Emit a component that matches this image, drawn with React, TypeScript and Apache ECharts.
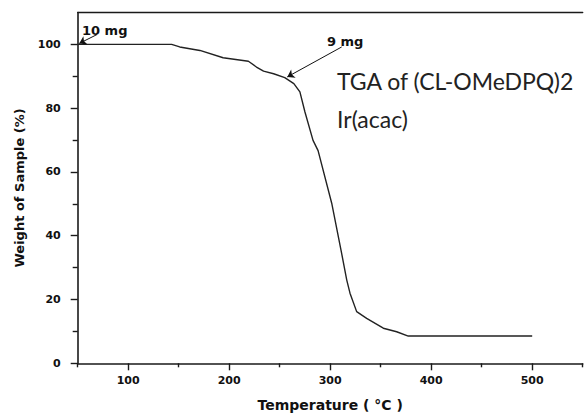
import React, { useEffect, useRef } from "react";
import * as echarts from "echarts";

const temperature = [50, 143, 151, 171, 194, 219, 227, 234, 244, 255, 264, 270, 275, 283, 288, 301.5, 310.7, 316.4, 319.6, 326.2, 336.1, 352.6, 365.8, 377.3, 500];
const weight = [100, 100, 99.2, 98.1, 95.8, 94.7, 92.9, 91.6, 90.8, 89.6, 87.7, 85.1, 78.8, 69.9, 66.7, 50.2, 35.5, 26.1, 22.0, 16.2, 14.1, 11.0, 9.9, 8.55, 8.55];

const xMajorTicks = [100, 200, 300, 400, 500];
const xMinorTicks = [50, 150, 250, 350, 450, 550];
const yMajorTicks = [0, 20, 40, 60, 80, 100];
const yMinorTicks = [10, 30, 50, 70, 90];

const annotationLabels = ["10 mg", "9 mg"];
const annotationFrom = [[69.2, 103.1], [311.4, 99.2]];
const annotationTo = [[51.5, 100.3], [257.5, 89.8]];

const titleLines = ["TGA of (CL-OMeDPQ)2", "Ir(acac)"];

const TICK_FONT = "DejaVu Sans";

export default function App() {
  const ref = useRef<HTMLDivElement>(null);
  useEffect(() => {
    if (!ref.current) return;
    const chart = echarts.init(ref.current, null, { renderer: "svg" });
    const lineColor = "#1a1a1a";
    const baseX = {
      type: "value",
      min: 50,
      max: 550,
      interval: 50,
      splitLine: { show: false },
    };
    const baseY = {
      type: "value",
      min: 0,
      max: 110,
      interval: 10,
      splitLine: { show: false },
    };
    chart.setOption({
      animation: false,
      backgroundColor: "#ffffff",
      grid: { left: 77.7, right: 2.3, top: 12.5, bottom: 54.7, containLabel: false },
      xAxis: [
        {
          ...baseX,
          position: "bottom",
          name: "Temperature ( °C )",
          nameLocation: "middle",
          nameGap: 35,
          nameTextStyle: { fontFamily: TICK_FONT, fontWeight: "bold", fontSize: 14, color: "#111" },
          axisLine: { show: true, onZero: false, lineStyle: { color: lineColor, width: 1.6 } },
          axisTick: { show: true, customValues: xMajorTicks, length: 7, lineStyle: { color: lineColor, width: 1.4 } },
          axisLabel: {
            customValues: xMajorTicks,
            margin: 12,
            fontFamily: TICK_FONT,
            fontWeight: "bold",
            fontSize: 11,
            color: "#111",
          },
        },
        {
          ...baseX,
          position: "bottom",
          axisLine: { show: false },
          axisTick: { show: true, customValues: xMinorTicks, length: 4, lineStyle: { color: lineColor, width: 1.4 } },
          axisLabel: { show: false },
        },
        {
          ...baseX,
          position: "top",
          axisLine: { show: true, onZero: false, lineStyle: { color: lineColor, width: 1.4 } },
          axisTick: { show: false },
          axisLabel: { show: false },
        },
      ],
      yAxis: [
        {
          ...baseY,
          position: "left",
          name: "Weight of Sample (%)",
          nameLocation: "middle",
          nameGap: 52,
          nameTextStyle: { fontFamily: TICK_FONT, fontWeight: "bold", fontSize: 13, color: "#111" },
          axisLine: { show: true, onZero: false, lineStyle: { color: lineColor, width: 1.6 } },
          axisTick: { show: true, customValues: yMajorTicks, length: 7, lineStyle: { color: lineColor, width: 1.4 } },
          axisLabel: {
            customValues: yMajorTicks,
            margin: 17,
            fontFamily: TICK_FONT,
            fontWeight: "bold",
            fontSize: 11,
            color: "#111",
          },
        },
        {
          ...baseY,
          position: "left",
          axisLine: { show: false },
          axisTick: { show: true, customValues: yMinorTicks, length: 5, lineStyle: { color: lineColor, width: 1.4 } },
          axisLabel: { show: false },
        },
      ],
      series: [
        {
          type: "line",
          xAxisIndex: 0,
          yAxisIndex: 0,
          data: temperature.map((t, i) => [t, weight[i]]),
          showSymbol: false,
          symbol: "none",
          lineStyle: { color: "#222", width: 1.4 },
          silent: true,
          markLine: {
            silent: true,
            symbol: ["none", "arrow"],
            symbolSize: 7,
            label: { show: false },
            lineStyle: { color: "#111", width: 1, type: "solid" },
            data: annotationFrom.map((f, i) => [
              { coord: f },
              { coord: annotationTo[i] },
            ]),
          },
        },
      ],
      graphic: [
        {
          type: "text",
          left: 82,
          top: 24,
          style: { text: annotationLabels[0], font: `bold 13px '${TICK_FONT}'`, fill: "#111" },
        },
        {
          type: "text",
          left: 327,
          top: 35,
          style: { text: annotationLabels[1], font: `bold 13px '${TICK_FONT}'`, fill: "#111" },
        },
        {
          type: "text",
          left: 337,
          top: 69,
          style: { text: titleLines[0], font: "23px Lato", fill: "#222" },
        },
        {
          type: "text",
          left: 337,
          top: 107,
          style: { text: titleLines[1], font: "23px Lato", fill: "#222" },
        },
      ],
    });
    return () => chart.dispose();
  }, []);
  return <div ref={ref} style={{ width: 585, height: 418, position: "absolute", left: 0, top: 0 }} />;
}
